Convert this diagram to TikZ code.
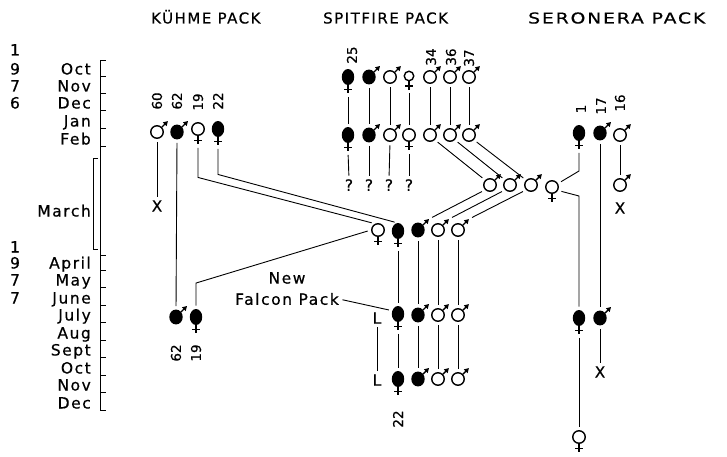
\documentclass[tikz,border=0pt]{standalone}
\usepackage{fontspec}
\usepackage{graphicx}
\setmainfont{DejaVu Sans}
\newfontfamily\lett[LetterSpace=10,FakeBold=0.5]{DejaVu Sans}
\newfontfamily\digs[FakeBold=0.5]{DejaVu Sans}
\usetikzlibrary{arrows.meta,shapes.geometric,calc}
\tikzset{
  symln/.style={line width=1.4pt},
  symnode/.style={draw, line width=1.4pt, inner sep=0pt},
  femo/.style={symnode, circle, minimum size=12.5pt, fill=white},
  femf/.style={symnode, ellipse, minimum width=11pt, minimum height=14.5pt, fill=black},
  malo/.style={symnode, circle, minimum size=12.5pt, fill=white},
  malf/.style={symnode, ellipse, minimum width=12pt, minimum height=13.5pt, fill=black},
  ln/.style={line width=0.9pt, shorten <=3.5pt, shorten >=3.5pt},
  axl/.style={line width=1pt},
  txt/.style={font=\lett\fontsize{15.5}{18}\selectfont, inner sep=0pt},
  mon/.style={txt, anchor=base east},
  yr/.style={txt, anchor=base},
  ttl/.style={font=\lett\fontsize{15}{18}\selectfont, inner sep=0pt, anchor=base west},
  num/.style={font=\digs\fontsize{13.5}{15}\selectfont, inner sep=0pt, rotate=90},
  sgn/.style={txt}
}
\newcommand\Fsym[4]{%
  \node[#1] (#2) at (#3,#4) {};
  \draw[symln] (#2.south) -- ++(0,8.5) coordinate (#2-b);
  \draw[symln] ($(#2.south)+(-4,4.5)$) -- ++(8,0);
}
\newcommand\Msym[4]{%
  \node[#1] (#2) at (#3,#4) {};
  \draw[symln,-{Triangle[length=4.5pt,width=5pt]}] (#2.45) -- ++(6,-6) coordinate (#2-a);
}
\begin{document}
\begin{tikzpicture}[x=1pt,y=-1pt]
\fill[white] (0,0) rectangle (727,457);
\useasboundingbox (0,0) rectangle (727,457);

% titles
\node[ttl] (tK) at (151,23.5) {KÜHME PACK};
\node[ttl] (tS) at (323,23.5) {SPITFIRE PACK};
\node[ttl] (tR) at (528,23.5) {\scalebox{1.25}[1]{SERONERA PACK}};

% time axis
\draw[axl] (100,61) -- (100,410);
\foreach \yy in {61,77,94,111,129,147,255,270,287,305,322,340,357,375,392,410}
  \draw[axl] (100,\yy) -- (106,\yy);
\draw[axl] (98,159) -- (93,159) -- (93,249) -- (98,249);

% years
\node[yr] (ya1) at (15,55.5) {1};
\node[yr] (ya2) at (15,74.5) {9};
\node[yr] (ya3) at (15,91.5) {7};
\node[yr] (ya4) at (15,108.5) {6};
\node[yr] (yb1) at (15,252.5) {1};
\node[yr] (yb2) at (15,268.5) {9};
\node[yr] (yb3) at (15,285.5) {7};
\node[yr] (yb4) at (15,303.5) {7};

% months
\node[mon] (mOct) at (91,74.5) {Oct};
\node[mon] (mNov) at (91,91.5) {Nov};
\node[mon] (mDec) at (91,108.5) {Dec};
\node[mon] (mJan) at (91,126.5) {Jan};
\node[mon] (mFeb) at (91,144.5) {Feb};
\node[mon] (mMar) at (91,216.5) {March};
\node[mon] (mApr) at (91,268.5) {April};
\node[mon] (mMay) at (91,285.5) {May};
\node[mon] (mJun) at (91,303.5) {June};
\node[mon] (mJul) at (91,320.5) {July};
\node[mon] (mAug) at (91,338.5) {Aug};
\node[mon] (mSep) at (91,355.5) {Sept};
\node[mon] (mOct2) at (91,373.5) {Oct};
\node[mon] (mNov2) at (91,390.5) {Nov};
\node[mon] (mDec2) at (91,408.5) {Dec};

% ---------------- Kuhme pack
\Msym{malo}{k60}{157}{132}
\Msym{malf}{k62}{177}{132}
\Fsym{femo}{k19}{198}{129}
\Fsym{femf}{k22}{218}{129}
\node[sgn] (kx60) at (157,206) {X};
\Msym{malf}{k62j}{176}{317}
\Fsym{femf}{k19j}{196}{317}
\node[num] (n60) at (157,101) {60};
\node[num] (n62) at (177,101) {62};
\node[num] (n19) at (198,102) {19};
\node[num] (n22) at (218,101) {22};
\node[num] (n62b) at (176,353) {62};
\node[num] (n19b) at (196,353) {19};

% ---------------- Spitfire pack
\Fsym{femf}{so1}{348}{77}
\Msym{malf}{so2}{369}{77}
\Msym{malo}{so3}{390}{77}
\Fsym{femo,minimum size=9.5pt}{so4}{409}{76}
\Msym{malo}{so5}{430}{77}
\Msym{malo}{so6}{450}{77}
\Msym{malo}{so7}{469}{77}
\node[num] (n25) at (352,55) {25};
\node[num] (n34) at (431,57) {34};
\node[num] (n36) at (451,57) {36};
\node[num] (n37) at (469,58) {37};

\Fsym{femf}{sj1}{348}{135}
\Msym{malf}{sj2}{369}{135}
\Msym{malo}{sj3}{390}{135}
\Fsym{femo}{sj4}{409}{135}
\Msym{malo}{sj5}{430}{135}
\Msym{malo}{sj6}{450}{135}
\Msym{malo}{sj7}{469}{135}

\node[sgn] (q1) at (349,185) {?};
\node[sgn] (q2) at (369,185) {?};
\node[sgn] (q3) at (389,185) {?};
\node[sgn] (q4) at (409,185) {?};

\Msym{malo}{m1}{490}{185}
\Msym{malo}{m2}{510}{185}
\Msym{malo}{m3}{531}{185}
\Fsym{femo}{sv}{552}{187}

\Fsym{femo}{s19}{378}{230}
\Fsym{femf}{s22}{398}{231}
\Msym{malf}{sMf}{418}{230}
\Msym{malo}{sMo1}{438}{230}
\Msym{malo}{sMo2}{458}{230}

\node[sgn] (sL1) at (377,318) {L};
\Fsym{femf}{sJf}{398}{314}
\Msym{malf}{sJm}{418}{315}
\Msym{malo}{sJo1}{438}{315}
\Msym{malo}{sJo2}{458}{315}

\node[sgn] (sL2) at (377,380) {L};
\Fsym{femf}{sSf}{398}{379}
\Msym{malf}{sSm}{418}{379}
\Msym{malo}{sSo1}{438}{379}
\Msym{malo}{sSo2}{458}{379}
\node[num] (n22b) at (398,419) {22};

\node[txt] (nfa) at (287,278) {New};
\node[txt] (nfb) at (287,299) {Falcon Pack};

% ---------------- Seronera pack
\Fsym{femf}{ser1}{579}{133}
\Msym{malf}{ser17}{600}{133}
\Msym{malo}{ser16}{620}{135}
\node[num] (n1) at (581,109) {1};
\node[num] (n17) at (601,106) {17};
\node[num] (n16) at (620,103) {16};
\Msym{malo}{ser16b}{620}{185}
\node[sgn] (serX16) at (620,208) {X};
\Fsym{femf}{serJf}{579}{318}
\Msym{malf}{serJm}{600}{318}
\node[sgn] (serX17) at (600,372) {X};
\Fsym{femo}{serD}{579}{437}
\coordinate (sb1) at (579,171);
\coordinate (sb2) at (579,196);

% ---------------- connectors
\draw[ln] (k60.south) -- (kx60.north);
\draw[ln] (k62.south) -- (k62j.north);
\draw[ln] (k19-b) -- ++(0,33) -- (s19.115);
\draw[ln] (k22-b) -- ++(0,29) -- (s22.north);
\draw[ln] (k19j.north) -- ++(0,-26) -- (s19.west);

\foreach \i in {1,4} \draw[ln] (so\i-b) -- (sj\i.north);
\foreach \i in {2,3,5,6,7} \draw[ln] (so\i.south) -- (sj\i.north);
\foreach \i in {1,4} \draw[ln] (sj\i-b) -- (q\i.north);
\foreach \i in {2,3} \draw[ln] (sj\i.south) -- (q\i.north);
\draw[ln] (sj5.south east) -- (m1.north west);
\draw[ln] (sj6.south east) -- (m2.north west);
\draw[ln] (sj7.south east) -- (m3.north west);
\draw[ln] (sMf-a) -- (m1.south west);
\draw[ln] (sMo1-a) -- (m2.south west);
\draw[ln] (sMo2-a) -- (m3.south west);

\draw[ln] (s22-b) -- (sJf.north);
\draw[ln] (sMf.south) -- (sJm.north);
\draw[ln] (sMo1.south) -- (sJo1.north);
\draw[ln] (sMo2.south) -- (sJo2.north);
\draw[ln] (sL1.south) -- (sL2.north);
\draw[ln] (sJf-b) -- (sSf.north);
\draw[ln] (sJm.south) -- (sSm.north);
\draw[ln] (sJo1.south) -- (sSo1.north);
\draw[ln] (sJo2.south) -- (sSo2.north);
\draw[ln] (nfb.east) -- (sJf.150);

\draw[ln] (ser1-b) -- (sb1) -- (sv.30);
\draw[ln] (sv.330) -- (sb2) -- (serJf.north);
\draw[ln] (ser17.south) -- (serJm.north);
\draw[ln] (ser16.south) -- (ser16b.north);
\draw[ln] (serJm.south) -- (serX17.north);
\draw[ln] (serJf-b) -- (serD.north);
\end{tikzpicture}
\end{document}
